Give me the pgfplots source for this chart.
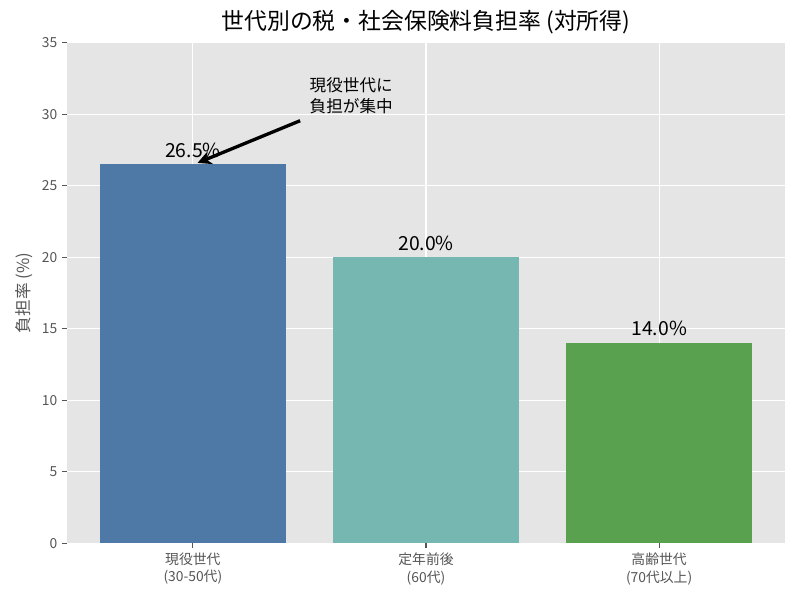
\documentclass[border=0pt]{standalone}
\usepackage{fontspec}
\setmainfont{Noto Sans CJK JP}
\usepackage{pgfplots}
\pgfplotsset{compat=1.18}
\usetikzlibrary{arrows.meta}
\definecolor{cBlue}{RGB}{78,121,167}
\definecolor{cTeal}{RGB}{118,183,178}
\definecolor{cGreen}{RGB}{89,161,79}
\definecolor{bgGray}{RGB}{229,229,229}
\definecolor{tickGray}{RGB}{85,85,85}
\begin{document}
\begin{tikzpicture}
\path[use as bounding box] (0,0) rectangle (576bp,432bp);
\begin{axis}[
  at={(48.24bp,40.8bp)}, anchor=south west,
  scale only axis, width=516.96bp, height=360.4bp,
  xmin=-0.54, xmax=2.54, ymin=0, ymax=35,
  ytick={0,5,10,15,20,25,30,35},
  xtick={0,1,2},
  xticklabels={{現役世代\\(30-50代)},{定年前後\\(60代)},{高齢世代\\(70代以上)}},
  x tick label style={align=center, font=\fontsize{10}{12.5}\selectfont, text=tickGray},
  y tick label style={font=\fontsize{10}{12}\selectfont, text=tickGray},
  /pgf/number format/assume math mode=true,
  axis background/.style={fill=bgGray},
  axis line style={draw=none},
  grid=major, major grid style={white, line width=0.8pt},
  tick align=outside, major tick length=3.5pt,
  tick style={tickGray, line width=0.8pt},
  xtick pos=bottom, ytick pos=left,
  ylabel={負担率 (\%)},
  ylabel style={font=\fontsize{12}{14}\selectfont, text=tickGray},
  title={世代別の税・社会保険料負担率 (対所得)},
  title style={font=\fontsize{16.5}{19}\selectfont, yshift=-3pt},
  ybar, bar width=0.8, bar shift=0pt,
  nodes near coords={\pgfmathprintnumber[fixed,fixed zerofill,precision=1]{\pgfplotspointmeta}\%},
  nodes near coords style={font=\fontsize{14}{16}\selectfont, text=black, yshift=1.5pt},
]
\addplot[draw=none, fill=cBlue] coordinates {(0,26.5)};
\addplot[draw=none, fill=cTeal] coordinates {(1,20.0)};
\addplot[draw=none, fill=cGreen] coordinates {(2,14.0)};
\draw[line width=2.4pt, -{Stealth[length=10pt,width=10pt]}] (axis cs:0.46,29.55) -- (axis cs:0.02,26.6);
\node[anchor=south west, align=left, font=\fontsize{12}{15.5}\selectfont, inner sep=0pt] at (axis cs:0.5,30) {現役世代に\\負担が集中};
\end{axis}
\end{tikzpicture}
\end{document}
